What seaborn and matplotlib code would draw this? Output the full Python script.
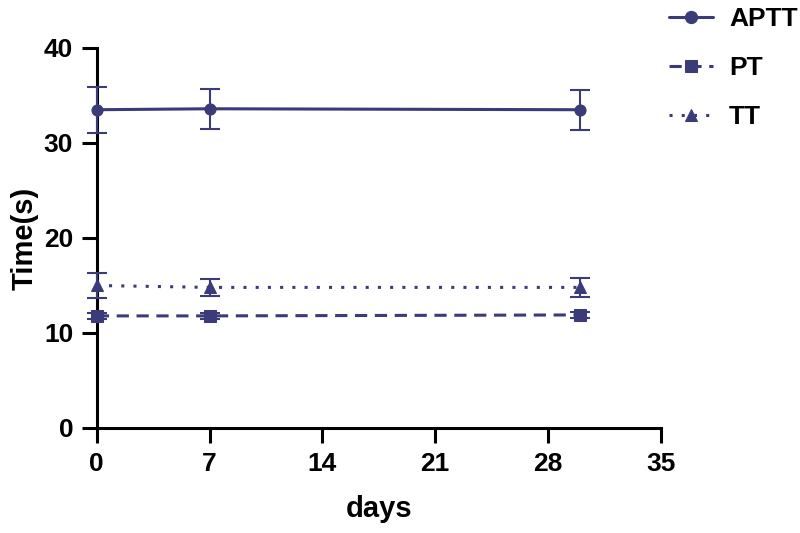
import pandas as pd
import matplotlib.pyplot as plt
import seaborn as sns

# values (mean and SD)
days = [0, 7, 30]
aptt = [33.5, 33.6, 33.5]
aptt_sd = [2.4, 2.1, 2.1]
pt = [11.8, 11.8, 11.9]
pt_sd = [0.3, 0.3, 0.3]
tt = [15.0, 14.8, 14.8]
tt_sd = [1.3, 0.9, 1.0]

data = pd.DataFrame({
    'days': days * 3,
    'time': aptt + pt + tt,
    'sd': aptt_sd + pt_sd + tt_sd,
    'test': ['APTT'] * 3 + ['PT'] * 3 + ['TT'] * 3,
})

sns.set_style("ticks")
plt.rcParams['font.family'] = ['Liberation Sans Narrow', 'Liberation Sans', 'DejaVu Sans']
plt.rcParams['font.weight'] = 'bold'
plt.rcParams['text.color'] = 'black'
plt.rcParams['axes.labelcolor'] = 'black'
plt.rcParams['xtick.color'] = 'black'
plt.rcParams['ytick.color'] = 'black'

navy = '#3b3b7a'
fig = plt.figure(figsize=(8, 5.33), dpi=100)
ax = fig.add_axes([0.121, 0.197, 0.705, 0.713])

styles = {'APTT': ('-', 'o', 8), 'PT': ((0, (4, 2.5)), 's', 8), 'TT': ((0, (1, 3)), '^', 8)}
for name, grp in data.groupby('test'):
    ls, mk, ms = styles[name]
    sns.lineplot(x='days', y='time', data=grp, ax=ax, color=navy, linestyle=ls,
                 marker=mk, markersize=ms, markeredgecolor=navy, linewidth=2.2,
                 label=name, clip_on=False, zorder=3)
    ax.errorbar(grp['days'], grp['time'], yerr=grp['sd'], fmt='none', ecolor=navy,
                elinewidth=1.5, capsize=7, capthick=1.5, clip_on=False, zorder=3)

ax.set_xlim(0, 35)
ax.set_ylim(0, 40)
ax.set_xticks([0, 7, 14, 21, 28, 35])
ax.set_yticks([0, 10, 20, 30, 40])
ax.set_xlabel('days', fontsize=21, fontweight='bold', labelpad=14)
ax.set_ylabel('Time(s)', fontsize=21, fontweight='bold', labelpad=4)
ax.tick_params(labelsize=19, width=2.2, length=11, pad=6)
for lab in ax.get_xticklabels() + ax.get_yticklabels():
    lab.set_fontweight('bold')
sns.despine(ax=ax)
for s in ['left', 'bottom']:
    ax.spines[s].set_linewidth(2.2)
    ax.spines[s].set_color('black')

leg = ax.legend(loc='upper left', bbox_to_anchor=(0.995, 1.135), frameon=False,
                fontsize=19, handlelength=1.7, handletextpad=0.6,
                labelspacing=0.95, borderaxespad=0, markerscale=1.1)
for t in leg.get_texts():
    t.set_fontweight('bold')

fig.savefig('out.png', dpi=100)
